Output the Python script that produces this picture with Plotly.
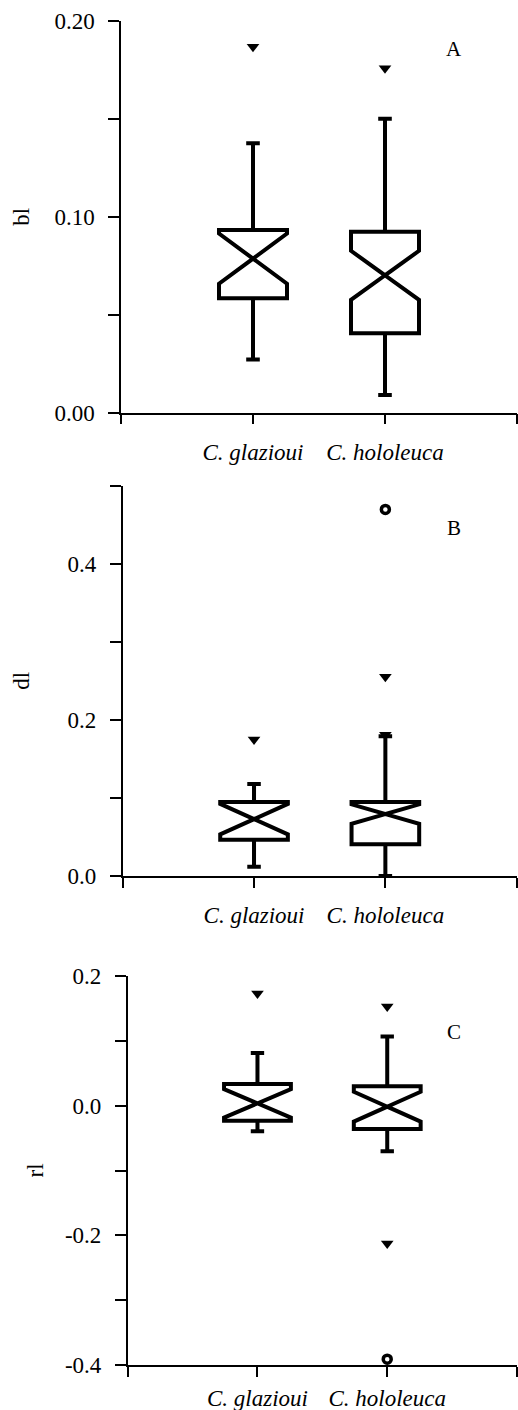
import plotly.graph_objects as go

categories = ["C. glazioui", "C. hololeuca"]
cat_pos = [1, 2]

# Panel A (bl)
bl_q1 = [0.0584, 0.0405]
bl_median = [0.0786, 0.0701]
bl_q3 = [0.0932, 0.0923]
bl_lower = [0.0272, 0.0090]
bl_upper = [0.1375, 0.1500]
bl_notch = [0.0128, 0.0125]
bl_out_tri_x = [1, 2]
bl_out_tri_y = [0.1867, 0.1757]
bl_out_circ_x = []
bl_out_circ_y = []

# Panel B (dl)
dl_q1 = [0.0463, 0.0407]
dl_median = [0.0729, 0.0793]
dl_q3 = [0.0947, 0.0947]
dl_lower = [0.012, 0.0]
dl_upper = [0.118, 0.179]
dl_notch = [0.0195, 0.0125]
dl_out_tri_x = [1, 2, 2]
dl_out_tri_y = [0.1748, 0.2554, 0.181]
dl_out_circ_x = [2]
dl_out_circ_y = [0.4696]

# Panel C (rl)
rl_q1 = [-0.0231, -0.0360]
rl_median = [0.0036, -0.0015]
rl_q3 = [0.0334, 0.0298]
rl_lower = [-0.0396, -0.0705]
rl_upper = [0.0813, 0.1065]
rl_notch = [0.022, 0.023]
rl_out_tri_x = [1, 2, 2]
rl_out_tri_y = [0.173, 0.1528, -0.2125]
rl_out_circ_x = [2]
rl_out_circ_y = [-0.391]

# y ticks
bl_ticks = [0, 0.05, 0.10, 0.15, 0.20]
bl_ticktext = ["0.00", "", "0.10", "", "0.20"]
dl_ticks = [0, 0.1, 0.2, 0.3, 0.4, 0.5]
dl_ticktext = ["0.0", "", "0.2", "", "0.4", ""]
rl_ticks = [-0.4, -0.3, -0.2, -0.1, 0.0, 0.1, 0.2]
rl_ticktext = ["-0.4", "", "-0.2", "", "0.0", "", "0.2"]

SERIF = "Liberation Serif"
W, H = 518, 1410

panels = [
    dict(name="bl", letter="A", q1=bl_q1, med=bl_median, q3=bl_q3, lo=bl_lower, hi=bl_upper, notch=bl_notch,
         tx=bl_out_tri_x, ty=bl_out_tri_y, cx=bl_out_circ_x, cy=bl_out_circ_y,
         ticks=bl_ticks, ticktext=bl_ticktext, yrange=[0, 0.2],
         px=(121, 517), py=(20.7, 412.7), title_x=22, letter_xy=(454, 49), xstand=8),
    dict(name="dl", letter="B", q1=dl_q1, med=dl_median, q3=dl_q3, lo=dl_lower, hi=dl_upper, notch=dl_notch,
         tx=dl_out_tri_x, ty=dl_out_tri_y, cx=dl_out_circ_x, cy=dl_out_circ_y,
         ticks=dl_ticks, ticktext=dl_ticktext, yrange=[0, 0.5],
         px=(122.7, 516.7), py=(485.7, 876), title_x=22, letter_xy=(454, 528), xstand=8),
    dict(name="rl", letter="C", q1=rl_q1, med=rl_median, q3=rl_q3, lo=rl_lower, hi=rl_upper, notch=rl_notch,
         tx=rl_out_tri_x, ty=rl_out_tri_y, cx=rl_out_circ_x, cy=rl_out_circ_y,
         ticks=rl_ticks, ticktext=rl_ticktext, yrange=[-0.4, 0.2],
         px=(127.7, 517), py=(976, 1365), title_x=35, letter_xy=(454, 1032), xstand=2),
]

fig = go.Figure()
annotations = []
layout = {}
for i, p in enumerate(panels):
    n = "" if i == 0 else str(i + 1)
    xa, ya = "x" + n, "y" + n
    fig.add_trace(go.Box(
        x=cat_pos, q1=p["q1"], median=p["med"], q3=p["q3"],
        lowerfence=p["lo"], upperfence=p["hi"], notchspan=p["notch"],
        notched=True, notchwidth=0.5, width=0.515, whiskerwidth=0.2,
        boxpoints=False, line=dict(color="black", width=4), fillcolor="white",
        xaxis=xa, yaxis=ya, showlegend=False, hoverinfo="skip"))
    fig.add_trace(go.Scatter(
        x=p["tx"], y=p["ty"], mode="markers", cliponaxis=False,
        marker=dict(symbol="triangle-down", size=11, color="black"),
        xaxis=xa, yaxis=ya, showlegend=False, hoverinfo="skip"))
    if p["cx"]:
        fig.add_trace(go.Scatter(
            x=p["cx"], y=p["cy"], mode="markers", cliponaxis=False,
            marker=dict(symbol="circle-open", size=8, color="black", line=dict(width=3.5)),
            xaxis=xa, yaxis=ya, showlegend=False, hoverinfo="skip"))

    x0, x1 = p["px"]
    y0, y1 = p["py"]
    layout["xaxis" + n] = dict(
        domain=[x0 / W, x1 / W], anchor=ya, range=[0, 3], automargin=False,
        tickmode="array", tickvals=[0, 1, 2, 3],
        ticktext=["", "<i>" + categories[0] + "</i>", "<i>" + categories[1] + "</i>", ""],
        ticks="outside", ticklen=10, tickwidth=1.5, tickcolor="black",
        showline=True, linewidth=1.5, linecolor="black",
        showgrid=False, zeroline=False, ticklabelstandoff=p["xstand"],
        tickfont=dict(family=SERIF, size=23, color="black"))
    layout["yaxis" + n] = dict(
        domain=[1 - y1 / H, 1 - y0 / H], anchor=xa, range=p["yrange"], automargin=False,
        tickmode="array", tickvals=p["ticks"], ticktext=p["ticktext"],
        ticks="outside", ticklen=11, tickwidth=1.5, tickcolor="black",
        showline=True, linewidth=1.5, linecolor="black",
        showgrid=False, zeroline=False, ticklabelstandoff=9,
        tickfont=dict(family=SERIF, size=23, color="black"))
    annotations.append(dict(
        text=p["name"], x=p["title_x"] / W, y=1 - (y0 + y1) / 2 / H,
        xref="paper", yref="paper", showarrow=False, textangle=-90,
        xanchor="center", yanchor="middle",
        font=dict(family=SERIF, size=23, color="black")))
    annotations.append(dict(
        text=p["letter"], x=p["letter_xy"][0] / W, y=1 - p["letter_xy"][1] / H,
        xref="paper", yref="paper", showarrow=False,
        xanchor="center", yanchor="middle",
        font=dict(family=SERIF, size=21, color="black")))

fig.update_layout(
    width=W, height=H, margin=dict(l=0, r=0, t=0, b=0, autoexpand=False),
    paper_bgcolor="white", plot_bgcolor="white",
    showlegend=False, annotations=annotations, **layout)

fig.write_html("out.html")
